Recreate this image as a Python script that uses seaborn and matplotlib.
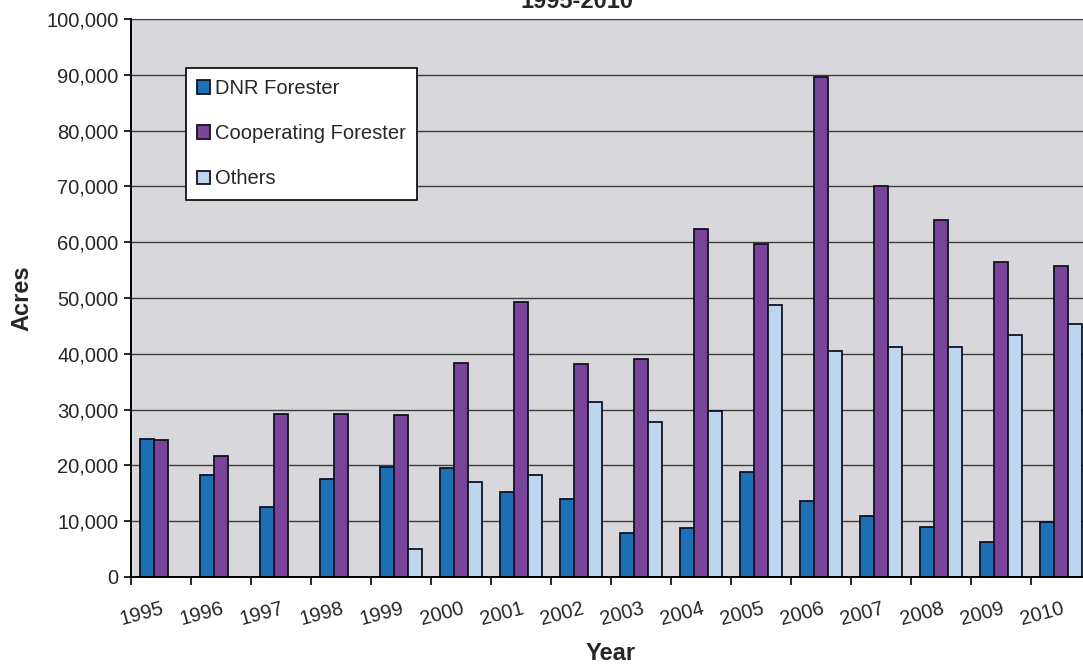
import matplotlib
matplotlib.use("Agg")
import matplotlib.pyplot as plt
from matplotlib.ticker import FixedLocator, FuncFormatter
import seaborn as sns
import pandas as pd

years = ["1995", "1996", "1997", "1998", "1999", "2000", "2001", "2002",
         "2003", "2004", "2005", "2006", "2007", "2008", "2009", "2010"]
dnr_forester = [24800, 18200, 12600, 17500, 19700, 19500, 15200, 14000,
                7800, 8700, 18900, 13700, 11000, 9000, 6300, 9800]
cooperating_forester = [24500, 21600, 29300, 29200, 29100, 38400, 49200, 38200,
                        39100, 62300, 59600, 89600, 70000, 64000, 56400, 55800]
others = [0, 0, 0, 0, 5000, 17000, 18200, 31400,
          27800, 29700, 48700, 40500, 41300, 41200, 43300, 45300]

series_names = ["DNR Forester", "Cooperating Forester", "Others"]
series_colors = ["#1b70b6", "#7a449b", "#bcd6f0"]

df = pd.DataFrame({
    "Year": years * 3,
    "Acres": dnr_forester + cooperating_forester + others,
    "Source": [series_names[0]] * len(years)
              + [series_names[1]] * len(years)
              + [series_names[2]] * len(years),
})

sns.set_theme(style="white")
plt.rcParams["font.family"] = ["Liberation Sans", "DejaVu Sans"]

fig = plt.figure(figsize=(10.83, 6.69), dpi=100)
ax = fig.add_axes([131 / 1083, 1 - 577 / 669, 960 / 1083, 558 / 669])
ax.set_facecolor("#d8d8dc")

sns.barplot(data=df, x="Year", y="Acres", hue="Source", hue_order=series_names,
            palette=series_colors, width=0.7, edgecolor="#111122", linewidth=1.3,
            saturation=1, ax=ax)

ax.set_xlim(-0.5, len(years) - 0.5)
ax.set_ylim(0, 100000)

# horizontal gridlines at each 10,000
ax.set_yticks(range(0, 100001, 10000))
ax.yaxis.set_major_formatter(FuncFormatter(lambda v, p: f"{int(v):,}"))
ax.yaxis.grid(True, color="#3c3c3c", linewidth=1.0)
ax.xaxis.grid(False)
ax.set_axisbelow(True)

# category boundaries carry tick marks, centres carry the labels
ax.xaxis.set_major_locator(FixedLocator([i - 0.5 for i in range(len(years) + 1)]))
ax.xaxis.set_major_formatter(FuncFormatter(lambda v, p: ""))
ax.xaxis.set_minor_locator(FixedLocator(list(range(len(years)))))
ax.set_xticklabels(years, minor=True, rotation=15, ha="right",
                   rotation_mode="anchor", fontsize=14.5)
ax.tick_params(axis="x", which="major", direction="out", length=6, width=1.2,
               color="black", bottom=True)
ax.tick_params(axis="x", which="minor", length=0, pad=16)
ax.tick_params(axis="y", direction="out", length=5, width=1.2, color="black",
               left=True, labelsize=14.5, pad=4)

for side in ["top", "right"]:
    ax.spines[side].set_visible(False)
for side in ["left", "bottom"]:
    ax.spines[side].set_color("black")
    ax.spines[side].set_linewidth(1.4)

ax.set_xlabel("Year", fontsize=17, fontweight="bold", labelpad=9)
ax.set_ylabel("Acres", fontsize=17, fontweight="bold", labelpad=9)

handles, labels = ax.get_legend_handles_labels()
ax.legend(handles, labels, loc="upper left",
          bbox_to_anchor=(186 / 1083, 1 - 68 / 669), bbox_transform=fig.transFigure,
          frameon=True, fancybox=False, edgecolor="black", framealpha=1,
          facecolor="white", fontsize=14.5, handlelength=0.65, handleheight=0.65,
          handletextpad=0.25, labelspacing=1.3, borderpad=0.55, borderaxespad=0)
ax.get_legend().get_frame().set_linewidth(1.2)

fig.text(577 / 1083, 1 - 8 / 669, "1995-2010", ha="center", va="baseline",
         fontsize=17, fontweight="bold")

fig.savefig("out.png", dpi=100)
